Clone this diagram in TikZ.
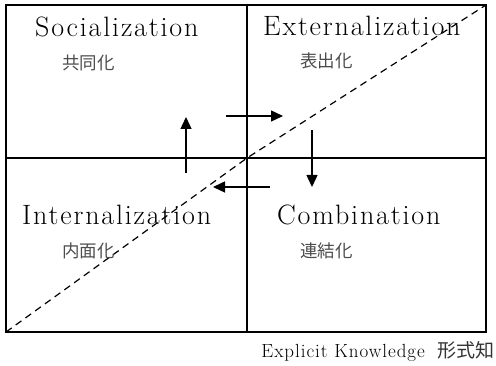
\documentclass[tikz,border=0pt]{standalone}
\usepackage{fontspec}
\newfontfamily\jpfont{Noto Sans CJK JP}
\newfontfamily\modefont[LetterSpace=6.5]{Latin Modern Roman}
\newfontfamily\notefont[LetterSpace=5]{Latin Modern Roman}
\usetikzlibrary{arrows.meta}

\tikzset{
    mode/.style={anchor=base west, inner sep=0pt, font=\modefont\fontsize{28}{30}\selectfont},
    modejp/.style={anchor=west, inner sep=0pt, text=black!70, font=\jpfont\fontsize{17.5}{19}\selectfont},
    flow/.style={line width=1.4pt, -{Triangle[length=12pt, width=11pt]}}
}

\begin{document}
\begin{tikzpicture}[x=1pt, y=-1pt]
    \useasboundingbox (0, 0) rectangle (496, 366);

    % frame and the four quadrants
    \coordinate (nw) at (6, 5);
    \coordinate (se) at (486, 332);
    \coordinate (sw) at (6, 332);
    \coordinate (ne) at (486, 5);
    \coordinate (mid) at (247, 158);
    \draw[line width=1.8pt] (nw) rectangle (se);
    \draw[line width=1.8pt] (247, 5) -- (247, 332);
    \draw[line width=1.8pt] (6, 158) -- (486, 158);

    % tacit -> explicit boundary
    \draw[line width=1.2pt, dash pattern=on 7pt off 5pt] (sw) -- (mid) -- (ne);

    % spiral arrows
    \coordinate (up0) at (186, 173);
    \coordinate (up1) at (186, 117);
    \coordinate (rt0) at (226, 116);
    \coordinate (rt1) at (283, 116);
    \coordinate (dn0) at (312, 130);
    \coordinate (dn1) at (312, 187);
    \coordinate (lt0) at (270, 187);
    \coordinate (lt1) at (213, 187);
    \draw[flow] (up0) -- (up1);
    \draw[flow] (rt0) -- (rt1);
    \draw[flow] (dn0) -- (dn1);
    \draw[flow] (lt0) -- (lt1);

    % labels
    \node[mode] (soc) at (35, 37) {Socialization};
    \node[modejp] (socjp) at (62, 63) {共同化};
    \node[mode] (ext) at (263, 35.5) {Externalization};
    \node[modejp] (extjp) at (300, 61) {表出化};
    \node[mode] (int) at (22, 225) {Internalization};
    \node[modejp] (intjp) at (62, 250.5) {内面化};
    \node[mode] (com) at (277, 225) {Combination};
    \node[modejp] (comjp) at (300, 250.5) {連結化};

    \node[anchor=base east, inner sep=0pt, font=\notefont\fontsize{19}{21}\selectfont] (explicit) at (495, 358) {Explicit Knowledge\hspace{13pt}{\jpfont\color{black!80}形式知}};
\end{tikzpicture}
\end{document}
